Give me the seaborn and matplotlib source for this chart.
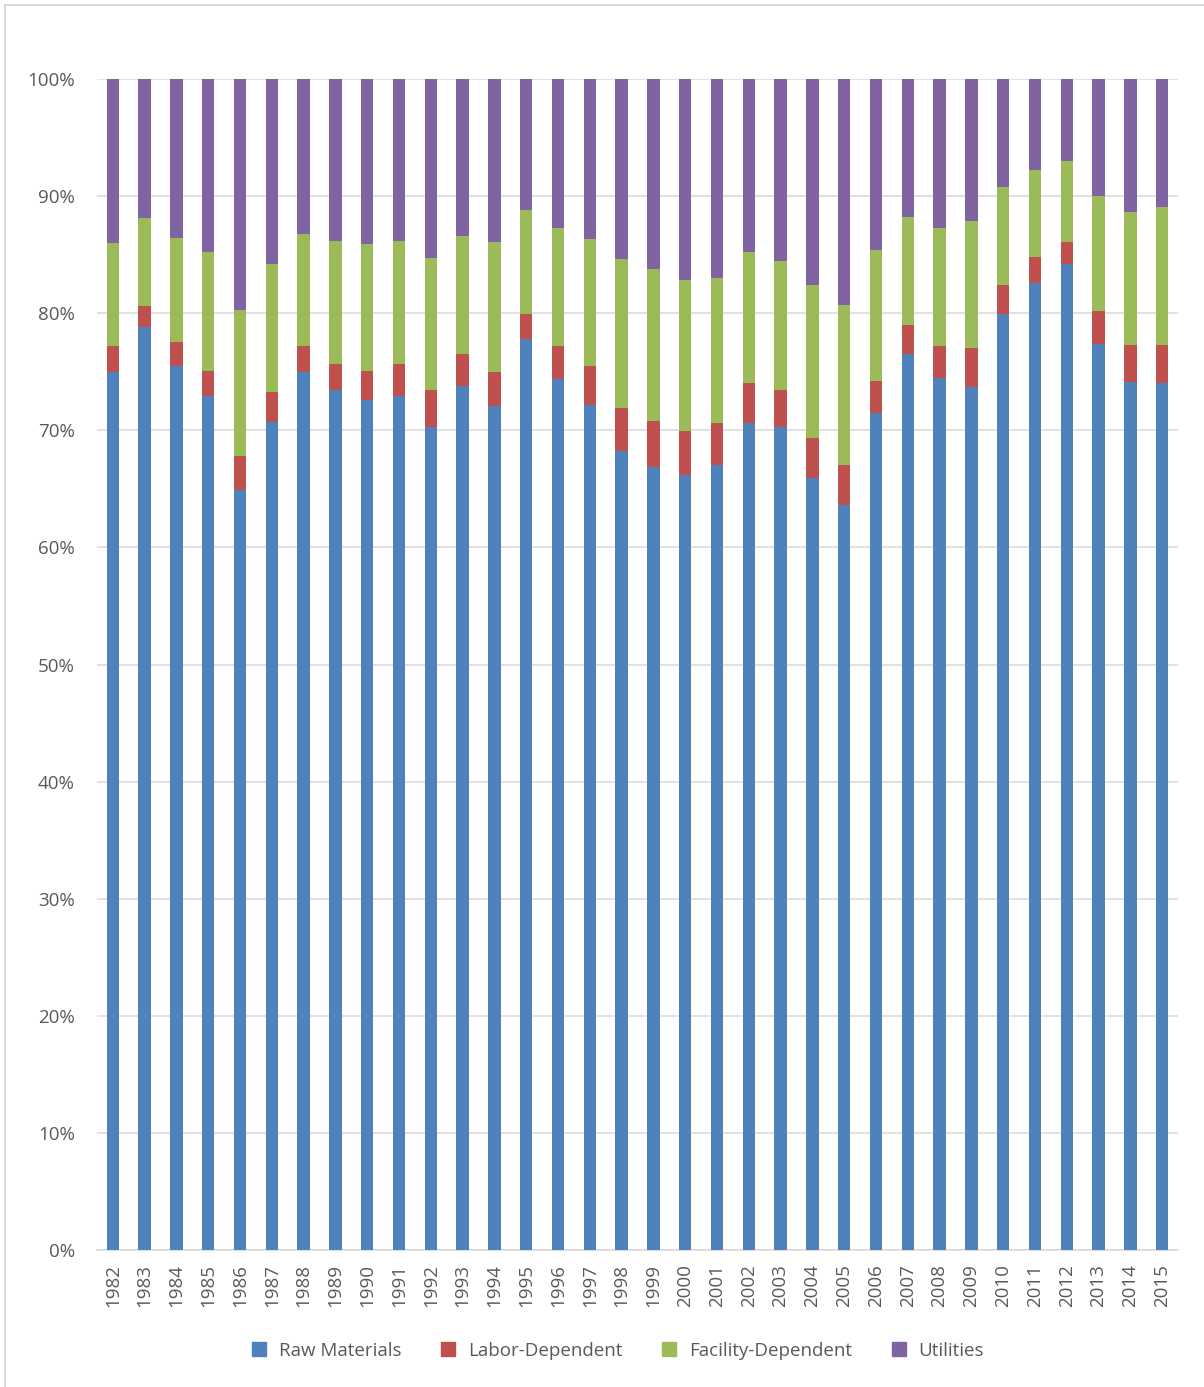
import matplotlib.pyplot as plt
import matplotlib.patches as mpatches
from matplotlib.lines import Line2D
from matplotlib.ticker import PercentFormatter
import pandas as pd
import seaborn as sns

# Cost shares by year (percent of total)
years = list(range(1982, 2016))
raw_materials = [75.0, 78.8, 75.5, 72.9, 64.9, 70.7, 75.0, 73.4, 72.6, 72.9,
                 70.3, 73.8, 72.1, 77.8, 74.4, 72.2, 68.2, 66.9, 66.2, 67.0,
                 70.6, 70.3, 65.9, 63.6, 71.5, 76.5, 74.5, 73.7, 79.9, 82.6,
                 84.2, 77.4, 74.1, 74.0]
labor_dependent = [2.2, 1.8, 2.0, 2.2, 2.9, 2.6, 2.2, 2.3, 2.5, 2.8,
                   3.1, 2.7, 2.9, 2.1, 2.8, 3.3, 3.7, 3.9, 3.7, 3.6,
                   3.4, 3.1, 3.4, 3.4, 2.7, 2.5, 2.7, 3.3, 2.5, 2.2,
                   1.9, 2.8, 3.2, 3.3]
facility_dependent = [8.8, 7.5, 8.9, 10.1, 12.5, 10.9, 9.6, 10.5, 10.8, 10.5,
                      11.3, 10.1, 11.1, 8.9, 10.1, 10.8, 12.7, 13.0, 12.9, 12.4,
                      11.2, 11.1, 13.1, 13.7, 11.2, 9.2, 10.1, 10.9, 8.4, 7.4,
                      6.9, 9.8, 11.3, 11.8]
utilities = [14.0, 11.9, 13.6, 14.8, 19.7, 15.8, 13.2, 13.8, 14.1, 13.8,
             15.3, 13.4, 13.9, 11.2, 12.7, 13.7, 15.4, 16.2, 17.2, 17.0,
             14.8, 15.5, 17.6, 19.3, 14.6, 11.8, 12.7, 12.1, 9.2, 7.8,
             7.0, 10.0, 11.4, 10.9]

series = ["Raw Materials", "Labor-Dependent", "Facility-Dependent", "Utilities"]
colors = ["#4F81BD", "#C0504D", "#9BBB59", "#8064A2"]

df = pd.DataFrame({"year": [str(y) for y in years],
                   "Raw Materials": raw_materials,
                   "Labor-Dependent": labor_dependent,
                   "Facility-Dependent": facility_dependent,
                   "Utilities": utilities})
# normalise to 100% and stack
total = df[series].sum(axis=1)
cum = df[series].div(total, axis=0).cumsum(axis=1)

sns.set_style("white")
plt.rcParams["font.family"] = ["Open Sans", "DejaVu Sans"]
text_grey = "#595959"

fig = plt.figure(figsize=(12.04, 13.87), dpi=100)
ax = fig.add_axes([97 / 1204, 1 - 1250 / 1387, 1081 / 1204, 1171 / 1387])

# draw from the top layer down so each lower segment covers the one above
for name, color in reversed(list(zip(series, colors))):
    sns.barplot(x=df["year"], y=cum[name], color=color, width=0.39,
                saturation=1, linewidth=0, ax=ax, zorder=3)

ax.set_xlim(-0.5, len(years) - 0.5)
ax.set_ylim(0, 1)
ax.set_yticks([i / 10 for i in range(11)])
ax.yaxis.set_major_formatter(PercentFormatter(1.0, decimals=0))
ax.grid(axis="y", color="#D9D9D9", linewidth=1.1, zorder=0)
ax.set_xlabel("")
ax.set_ylabel("")
for side in ["top", "right", "left"]:
    ax.spines[side].set_visible(False)
ax.spines["bottom"].set_color("#D9D9D9")
ax.spines["bottom"].set_linewidth(1.1)
ax.tick_params(axis="y", length=0, pad=16, labelsize=13.5, labelcolor=text_grey)
ax.tick_params(axis="x", length=0, pad=10, labelsize=13.5, labelcolor=text_grey,
               labelrotation=90)

handles = [Line2D([0], [0], marker="s", linestyle="none", markersize=10,
                  markerfacecolor=c, markeredgecolor=c) for c in colors]
fig.legend(handles, series, loc="center", bbox_to_anchor=(612 / 1204, 1 - 1351 / 1387),
           ncol=4, frameon=False, fontsize=13.5, labelcolor=text_grey,
           handletextpad=0.05, columnspacing=1.5)

# chart area border
fig.patches.append(mpatches.Rectangle((5 / 1204, -0.01), 1.1, 1 - 5 / 1387 + 0.01,
                                      transform=fig.transFigure, fill=False,
                                      edgecolor="#D9D9D9", linewidth=1.5))

fig.savefig("out.png", dpi=100)
